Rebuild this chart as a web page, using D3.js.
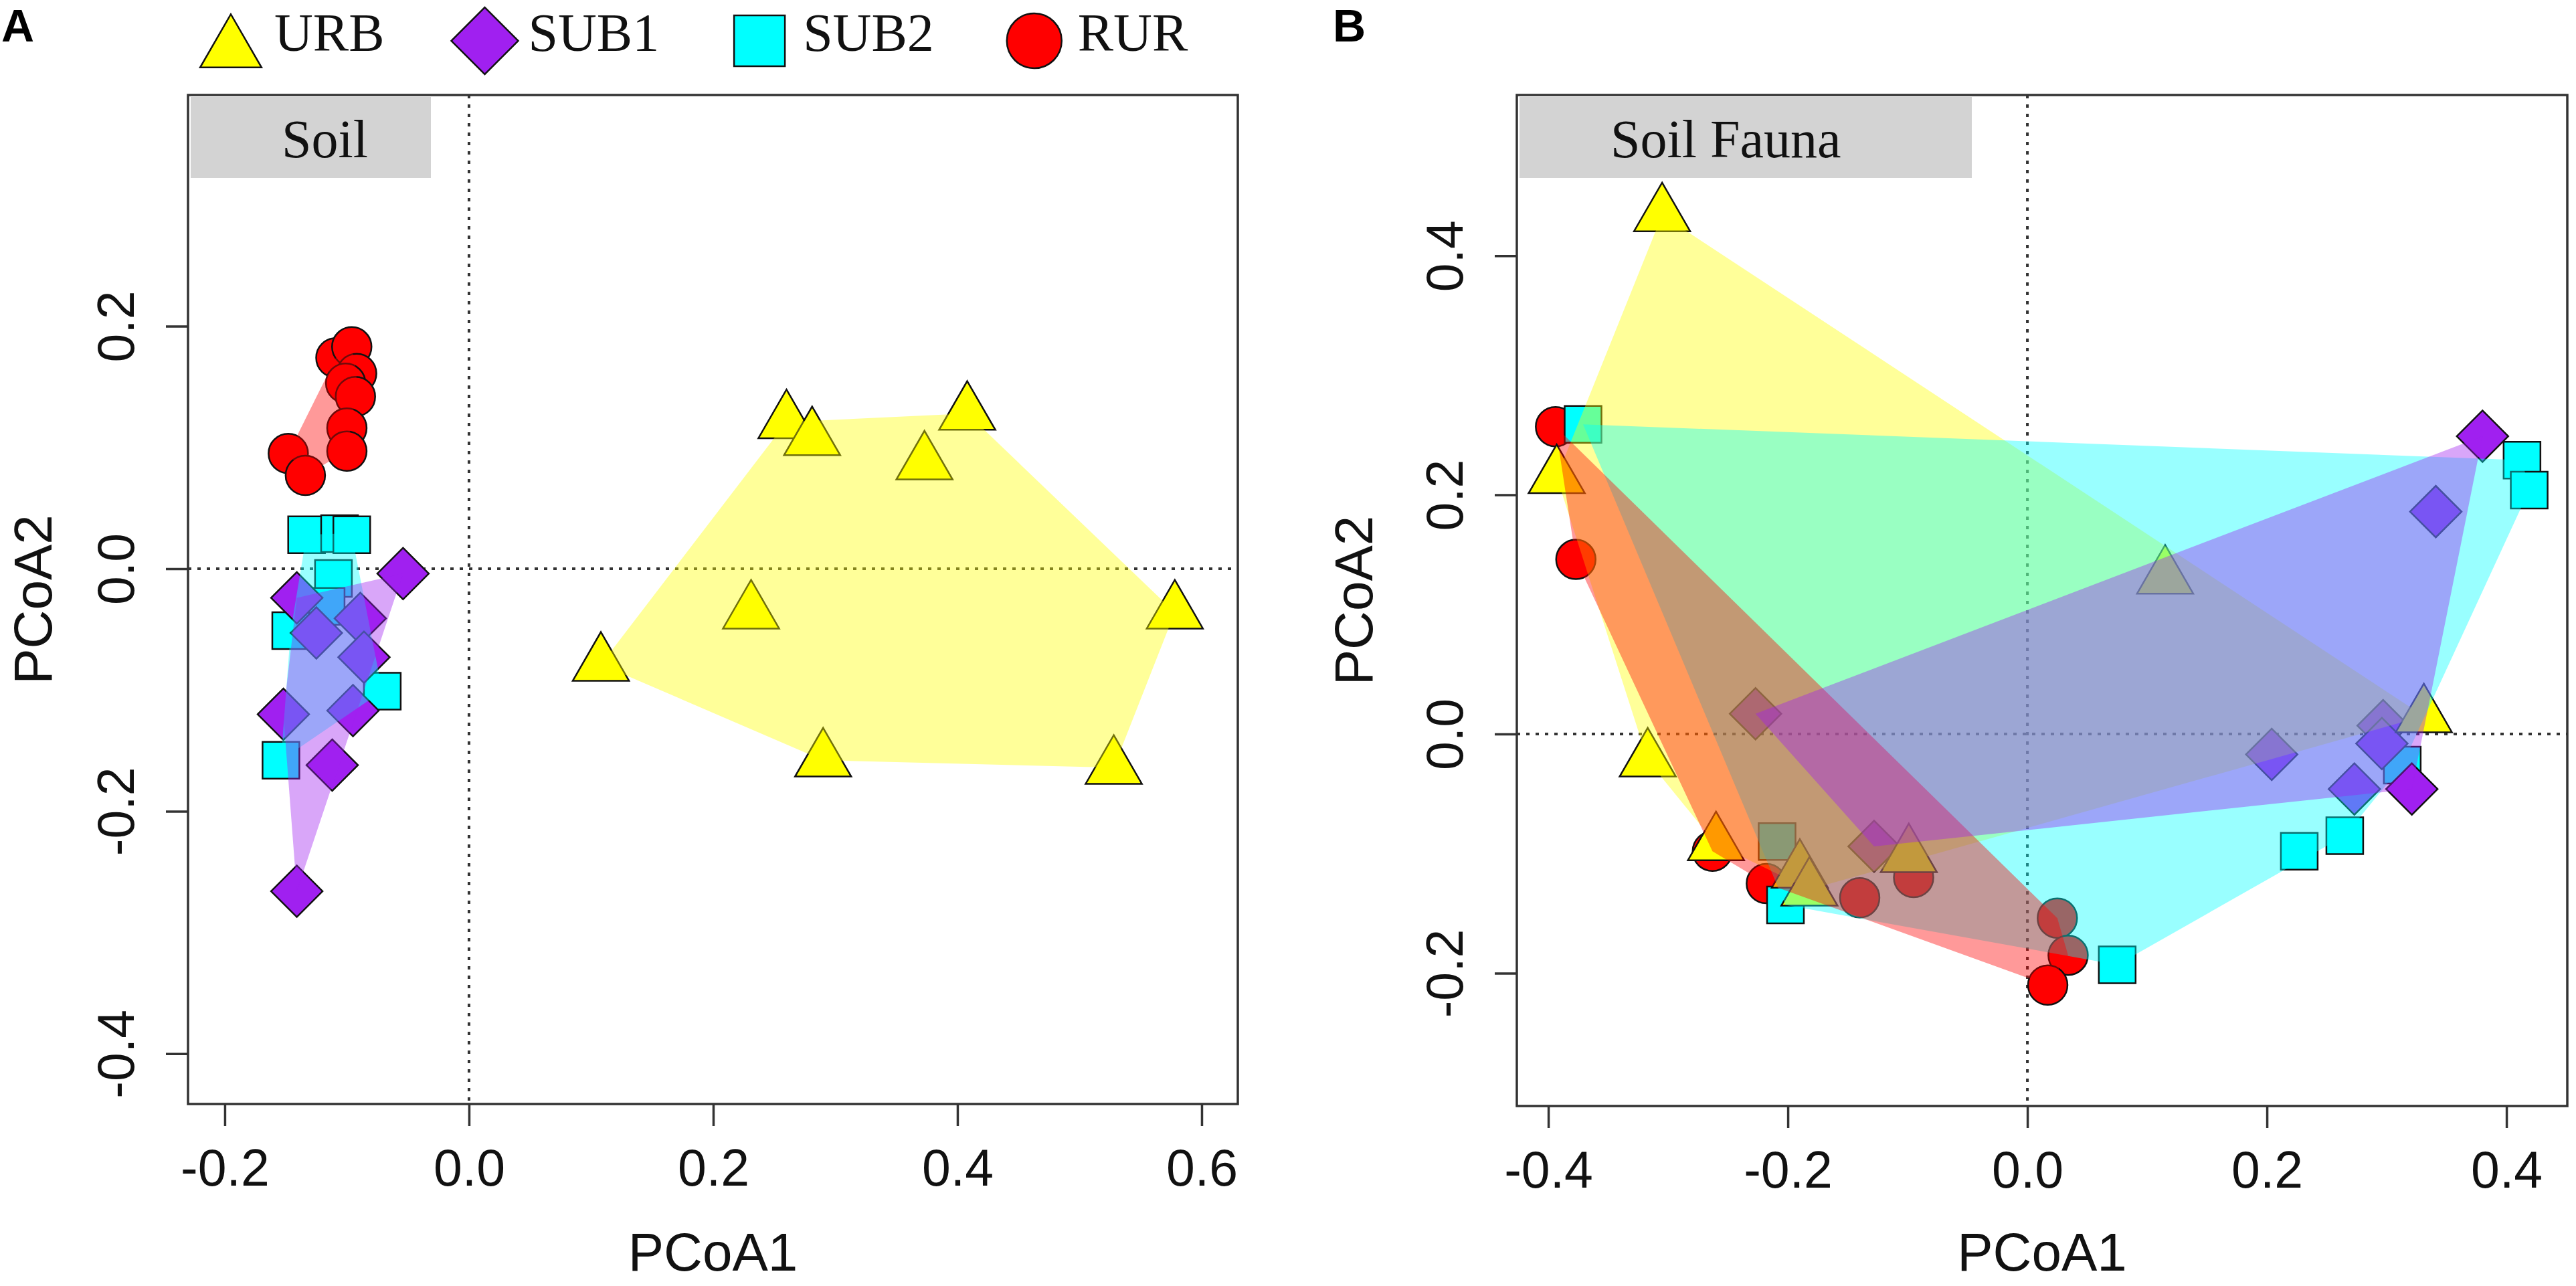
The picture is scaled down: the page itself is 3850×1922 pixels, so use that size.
<!DOCTYPE html>
<html>
<head>
<meta charset="utf-8">
<script src="https://cdn.jsdelivr.net/npm/d3@7"></script>
<style>
body{margin:0;background:#fff}
svg{display:block}
</style>
</head>
<body>
<svg id="fig"></svg>
<script>
// groups, in legend order
const groups = ['URB', 'SUB1', 'SUB2', 'RUR']
const cols = ['#ffff00', '#a020f0', '#00ffff', '#ff0000']
const shapes = ['triangle', 'diamond', 'square', 'circle']

// A - Soil  [PCoA1, PCoA2]
const soil_urb = [[0.260,0.121],[0.281,0.107],[0.408,0.128],[0.373,0.087],[0.231,-0.036],[0.108,-0.079],[0.578,-0.036],[0.290,-0.158],[0.528,-0.164]]
const soil_sub1 = [[-0.054,-0.004],[-0.141,-0.024],[-0.089,-0.041],[-0.125,-0.053],[-0.086,-0.073],[-0.152,-0.120],[-0.095,-0.117],[-0.112,-0.162],[-0.141,-0.266]]
const soil_sub2 = [[-0.133,0.028],[-0.106,0.029],[-0.096,0.028],[-0.111,-0.008],[-0.117,-0.031],[-0.146,-0.051],[-0.071,-0.101],[-0.154,-0.158]]
const soil_rur = [[-0.109,0.174],[-0.096,0.183],[-0.092,0.161],[-0.101,0.153],[-0.093,0.142],[-0.100,0.116],[-0.100,0.097],[-0.148,0.095],[-0.134,0.077]]

// B - Soil Fauna
const fauna_urb = [[-0.305,0.434],[-0.393,0.215],[-0.317,-0.022],[-0.260,-0.092],[-0.190,-0.115],[-0.182,-0.130],[-0.099,-0.102],[0.115,0.131],[0.331,0.015]]
const fauna_sub1 = [[-0.227,0.017],[-0.128,-0.094],[0.380,0.249],[0.341,0.186],[0.297,0.007],[0.296,-0.008],[0.204,-0.017],[0.321,-0.046],[0.273,-0.046]]
const fauna_sub2 = [[-0.371,0.259],[-0.209,-0.090],[-0.202,-0.143],[0.075,-0.193],[0.413,0.229],[0.419,0.204],[0.313,-0.026],[0.265,-0.085],[0.227,-0.098]]
const fauna_rur = [[-0.394,0.257],[-0.377,0.146],[-0.263,-0.098],[-0.218,-0.125],[-0.140,-0.137],[-0.095,-0.120],[0.025,-0.154],[0.034,-0.185],[0.017,-0.210]]

// tick labels
const soil_x_ticks = [-0.2, 0, 0.2, 0.4, 0.6]
const soil_y_ticks = [-0.4, -0.2, 0, 0.2]
const fauna_x_ticks = [-0.4, -0.2, 0, 0.2, 0.4]
const fauna_y_ticks = [-0.2, 0, 0.2, 0.4]

const _width = 3850
const _height = 1922
const sans = 'Liberation Sans, Arial, sans-serif'
const serif = 'Liberation Serif, Times New Roman, serif'

const panels = [
	{tag:'A', tag_x:2, title:'Soil', lab_w:359, left:281, right:1850, top:142, bottom:1650,
		xd:[-0.2301, 0.6296], yd:[-0.4415, 0.3907], xt:soil_x_ticks, yt:soil_y_ticks, ylab_x:77,
		data:[soil_urb, soil_sub1, soil_sub2, soil_rur]},
	{tag:'B', tag_x:1992, title:'Soil Fauna', lab_w:676, left:2267, right:3837, top:142, bottom:1653,
		xd:[-0.4263, 0.4508], yd:[-0.3111, 0.5344], xt:fauna_x_ticks, yt:fauna_y_ticks, ylab_x:2051,
		data:[fauna_urb, fauna_sub1, fauna_sub2, fauna_rur]}
]

// marker areas (plot / legend)
const plot_size = {triangle:3056, diamond:2964, square:3025, circle:2734}
const leg_size = {triangle:3649, diamond:5000, square:5776, circle:5281}

const symPath = (shape, size) => {
	const t = {triangle:d3.symbolTriangle, diamond:d3.symbolSquare, square:d3.symbolSquare, circle:d3.symbolCircle}[shape]
	return d3.symbol(t, size)()
}

const fmt = d => d3.format('.1f')(d).replace('\u2212', '-')

const svg = d3.select('#fig')
	.attr('width', _width)
	.attr('height', _height)
	.style('background', '#fff')

const drawPanel = (p) => {
	const x = d3.scaleLinear().domain(p.xd).range([p.left, p.right])
	const y = d3.scaleLinear().domain(p.yd).range([p.bottom, p.top])
	const g = svg.append('g')

	// dotted zero lines
	g.append('line')
		.attr('x1', x(0)).attr('x2', x(0))
		.attr('y1', p.top).attr('y2', p.bottom)
		.attr('stroke', '#333').attr('stroke-width', 4).attr('stroke-dasharray', '5,9')
	g.append('line')
		.attr('x1', p.left).attr('x2', p.right)
		.attr('y1', y(0)).attr('y2', y(0))
		.attr('stroke', '#333').attr('stroke-width', 4).attr('stroke-dasharray', '5,9')

	// points first (RUR at the bottom), hulls go over them
	;[3, 2, 1, 0].forEach(i => {
		g.selectAll(null)
			.data(p.data[i])
			.enter()
			.append('path')
			.attr('d', symPath(shapes[i], plot_size[shapes[i]]))
			.attr('transform', d => `translate(${x(d[0])},${y(d[1])})` + (shapes[i] === 'diamond' ? ' rotate(45)' : ''))
			.attr('fill', cols[i])
			.attr('stroke', '#111')
			.attr('stroke-width', 2.5)
	})

	// convex hulls, semi transparent
	;[0, 2, 3, 1].forEach(i => {
		const hull = d3.polygonHull(p.data[i].map(d => [x(d[0]), y(d[1])]))
		g.append('path')
			.attr('d', 'M' + hull.join('L') + 'Z')
			.attr('fill', cols[i])
			.attr('fill-opacity', 0.4)
	})

	// frame
	g.append('rect')
		.attr('x', p.left).attr('y', p.top)
		.attr('width', p.right - p.left).attr('height', p.bottom - p.top)
		.attr('fill', 'none').attr('stroke', '#333').attr('stroke-width', 3.5)

	// axes
	const xa = g.append('g')
		.attr('transform', `translate(0,${p.bottom})`)
		.call(d3.axisBottom(x).tickValues(p.xt).tickFormat(fmt).tickSize(33).tickPadding(34))
	const ya = g.append('g')
		.attr('transform', `translate(${p.left},0)`)
		.call(d3.axisLeft(y).tickValues(p.yt).tickFormat(fmt).tickSize(33))
	;[xa, ya].forEach(a => {
		a.select('.domain').remove()
		a.attr('font-size', 77).attr('font-family', sans)
		a.selectAll('line').attr('stroke', '#333').attr('stroke-width', 3.5)
		a.selectAll('text').attr('fill', '#111')
	})
	ya.selectAll('text')
		.attr('x', 0).attr('dy', null)
		.attr('text-anchor', 'middle')
		.attr('transform', 'translate(-81,0) rotate(-90)')

	g.append('text')
		.attr('x', (p.left + p.right) / 2).attr('y', 1899)
		.attr('text-anchor', 'middle')
		.attr('font-family', sans).attr('font-size', 80).attr('fill', '#111')
		.text('PCoA1')
	g.append('text')
		.attr('transform', `translate(${p.ylab_x},${(p.top + p.bottom) / 2}) rotate(-90)`)
		.attr('text-anchor', 'middle')
		.attr('font-family', sans).attr('font-size', 80).attr('fill', '#111')
		.text('PCoA2')

	// grey title box
	g.append('rect')
		.attr('x', p.left + 4).attr('y', p.top + 3)
		.attr('width', p.lab_w).attr('height', 121)
		.attr('fill', '#d3d3d3')
	g.append('text')
		.attr('x', p.left + 140).attr('y', p.top + 93)
		.attr('font-family', serif).attr('font-size', 80).attr('fill', '#111')
		.text(p.title)

	// panel letter
	svg.append('text')
		.attr('x', p.tag_x).attr('y', 62)
		.attr('font-family', sans).attr('font-weight', 'bold').attr('font-size', 68)
		.text(p.tag)
}

panels.forEach(drawPanel)

/*legend*/
let lx = 345
groups.forEach((k, i) => {
	const s = shapes[i]
	// triangle box-centred like the others
	const dy = s === 'triangle' ? Math.sqrt(leg_size.triangle / (Math.sqrt(3) * 3)) / 2 : 0
	svg.append('path')
		.attr('d', symPath(s, leg_size[s]))
		.attr('transform', `translate(${lx},${61 + dy})` + (s === 'diamond' ? ' rotate(45)' : ''))
		.attr('fill', cols[i])
		.attr('stroke', '#111')
		.attr('stroke-width', 2.5)
	const t = svg.append('text')
		.attr('x', lx + 65).attr('y', 76)
		.attr('font-family', serif).attr('font-size', 80).attr('fill', '#111')
		.text(k)
	lx = lx + 65 + t.node().getComputedTextLength() + 150
})
</script>
</body>
</html>
